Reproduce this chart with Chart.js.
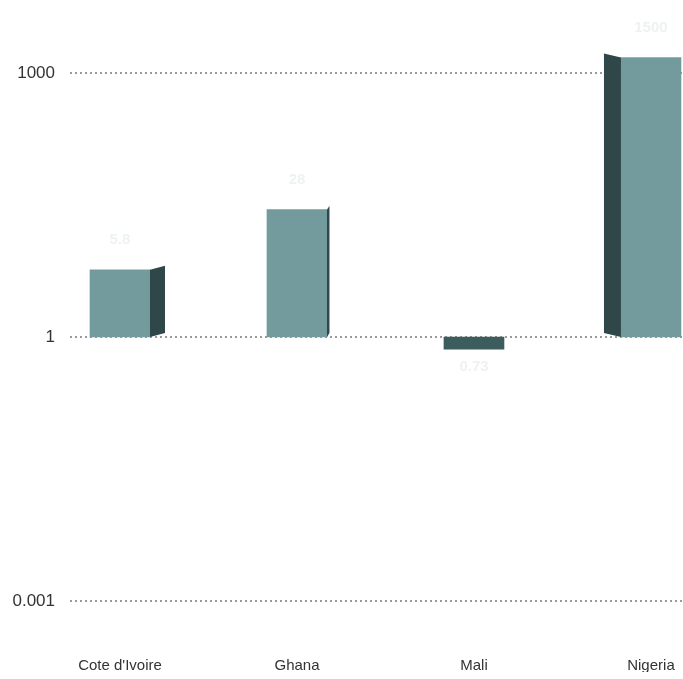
<!DOCTYPE html>
<html>
<head>
<meta charset="utf-8">
<script src="https://cdn.jsdelivr.net/npm/chart.js@4"></script>
<style>
  html, body { margin: 0; padding: 0; background: #fff; overflow: hidden; }
  #wrap { width: 683px; height: 679px; }
</style>
</head>
<body>
<div id="wrap"><canvas id="chart"></canvas></div>
<script>
// categories and values (log scale, bars start at 1)
const countries = ['Cote d\'Ivoire', 'Ghana', 'Mali', 'Nigeria'];
const values = [5.8, 28, 0.73, 1500];
const valueLabels = ['5.8', '28', '0.73', '1500'];
const yTicks = [0.001, 1, 1000];

const font = "'Liberation Sans', Arial, sans-serif";

// side face of each bar, to fake the 3D look of the original
const sideFaces = {
    id: 'sideFaces',
    afterDatasetsDraw(chart) {
        const ctx = chart.ctx;
        const meta = chart.getDatasetMeta(0);
        ctx.save();
        meta.data.forEach((bar, i) => {
            const half = bar.width / 2;
            const top = Math.min(bar.y, bar.base);
            const bottom = Math.max(bar.y, bar.base);
            let side = (330 - bar.x) * 0.075;
            side = Math.max(-17, Math.min(15, side));
            if (values[i] < 1 || Math.abs(side) < 2) return;
            const edge = side > 0 ? bar.x + half : bar.x - half;
            ctx.fillStyle = '#2f4749';
            ctx.beginPath();
            ctx.moveTo(edge, top);
            ctx.lineTo(edge + side, top - 4);
            ctx.lineTo(edge + side, bottom - 4);
            ctx.lineTo(edge, bottom);
            ctx.closePath();
            ctx.fill();
        });
        // value labels, very light as in the original
        ctx.fillStyle = '#eef2f2';
        ctx.font = 'bold 15px ' + font;
        ctx.textAlign = 'center';
        meta.data.forEach((bar, i) => {
            if (values[i] >= 1) {
                ctx.textBaseline = 'bottom';
                ctx.fillText(valueLabels[i], bar.x, bar.y - 22);
            } else {
                ctx.textBaseline = 'top';
                ctx.fillText(valueLabels[i], bar.x, bar.y + 22);
            }
        });
        ctx.restore();
    }
};

const ctx = document.getElementById('chart').getContext('2d');
new Chart(ctx, {
    type: 'bar',
    data: {
        datasets: [{
            data: values.map((v, i) => ({ x: i, y: [1, v] })),
            backgroundColor: c => (values[c.dataIndex] < 1 ? '#3d5c5e' : '#739b9d'),
            borderWidth: 0,
            barThickness: 60
        }]
    },
    options: {
        responsive: true,
        maintainAspectRatio: false,
        animation: false,
        layout: { padding: { top: 20, bottom: 7, right: 0, left: 0 } },
        plugins: { legend: { display: false }, tooltip: { enabled: false } },
        scales: {
            x: {
                type: 'linear',
                offset: false,
                min: -0.2825,
                max: 3.181,
                grid: { display: false, drawTicks: false },
                border: { display: false },
                afterBuildTicks: s => { s.ticks = countries.map((c, i) => ({ value: i })); },
                afterFit: s => { s.height = 50; s.paddingLeft = 0; s.paddingRight = 0; },
                ticks: {
                    padding: 35,
                    maxRotation: 0,
                    minRotation: 0,
                    autoSkip: false,
                    color: '#333',
                    font: { family: font, size: 15 },
                    callback: v => countries[v]
                }
            },
            y: {
                type: 'logarithmic',
                min: 0.000577,
                max: 3500,
                afterFit: s => { s.width = 70; },
                afterBuildTicks: s => { s.ticks = yTicks.map(v => ({ value: v })); },
                grid: {
                    color: '#9a9a9a',
                    lineWidth: 2,
                    drawTicks: false
                },
                border: { display: false, dash: [2, 3] },
                ticks: {
                    padding: 15,
                    color: '#333',
                    font: { family: font, size: 17 },
                    callback: v => String(v)
                }
            }
        }
    },
    plugins: [sideFaces]
});
</script>
</body>
</html>
